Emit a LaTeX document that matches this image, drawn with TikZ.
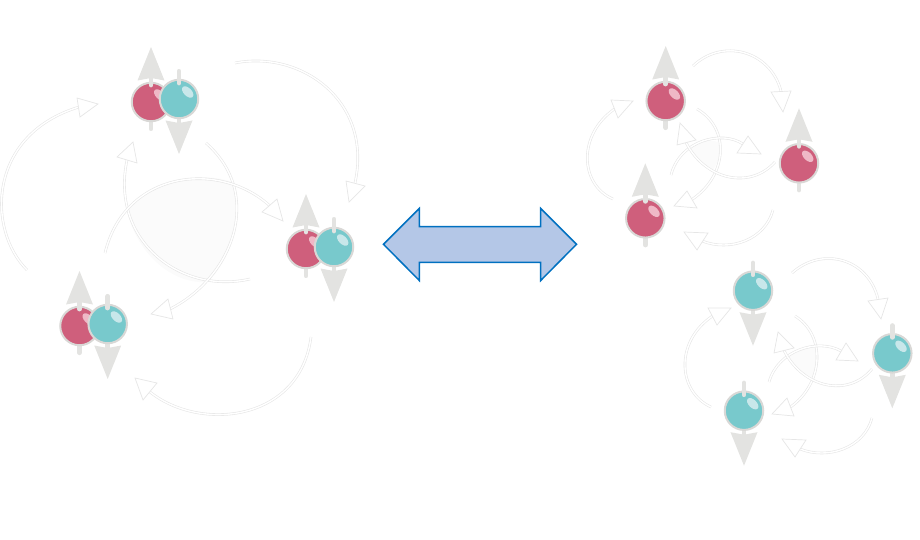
\documentclass[tikz,border=0pt]{standalone}
\definecolor{pinkball}{HTML}{CF5F7C}
\definecolor{tealball}{HTML}{78C9CC}
\definecolor{pinkshine}{HTML}{EFB8C6}
\definecolor{tealshine}{HTML}{C8E7EA}
\definecolor{ballring}{HTML}{D9D8D6}
\definecolor{spingray}{HTML}{E3E3E1}
\definecolor{bondgray}{HTML}{E6E6E6}
\definecolor{patchgray}{HTML}{FBFBFB}
\definecolor{swapfill}{HTML}{B4C7E7}
\definecolor{swapedge}{HTML}{0070C0}
\tikzset{
  ball/.style={circle, draw=ballring, line width=2pt, minimum size=38.5pt, inner sep=0pt},
  stem/.style={draw=spingray, line width=4.8pt, line cap=round},
  bondline/.style={draw=bondgray, line width=0.6pt, double=white, double distance=1.4pt},
  bondtip/.style={draw=bondgray, line width=0.7pt, fill=white, line join=miter},
  patch/.style={fill=patchgray},
}
% ball with spin up
\newcommand{\pinkspin}[3]{
  \begin{scope}[shift={(#2,#3)}]
    \draw[stem] (0,10) -- (0,26.7);
    \fill[spingray] (0,-55) -- (13.5,-21.5) -- (0,-24) -- (-13.5,-21.5) -- cycle;
    \node[ball, fill=pinkball] (#1) at (0,0) {};
    \fill[pinkshine, rotate around={-45:(8.7,-7)}] (8.7,-7) ellipse (7 and 4);
    \draw[stem] (0,-28) -- (0,-17);
  \end{scope}
}
% ball with spin down
\newcommand{\tealspin}[3]{
  \begin{scope}[shift={(#2,#3)}]
    \draw[stem] (0,10) -- (0,26);
    \fill[spingray] (0,55) -- (13.5,21.5) -- (0,24) -- (-13.5,21.5) -- cycle;
    \node[ball, fill=tealball] (#1) at (0,0) {};
    \fill[tealshine, rotate around={-45:(8.7,-7)}] (8.7,-7) ellipse (7 and 4);
    \draw[stem] (0,-27.7) -- (0,-16);
  \end{scope}
}
% curved arrow and its open head
\newcommand{\bond}[7]{
  \draw[bondline] #1 .. controls #2 and #3 .. #4;
  \draw[bondtip] #5 -- #6 -- #7 -- cycle;
}
\begin{document}
\begin{tikzpicture}[x=1pt, y=-1pt]
  \useasboundingbox (0,0) rectangle (920,540);

  % left group
  \fill[patch] (127,210) .. controls (150,180) and (205,170) .. (234,183)
    .. controls (243,215) and (232,258) .. (208,282)
    .. controls (170,285) and (135,250) .. (127,210);
  \bond{(27,270)}{(-13,230)}{(-13,135)}{(79,107)}{(77,98)}{(98,104)}{(80,117)}
  \bond{(235,63)}{(300,50)}{(373,100)}{(355,183)}{(346,181)}{(349,202)}{(365,186)}
  \bond{(250,279)}{(180,295)}{(110,240)}{(127,160)}{(117,157)}{(133,142)}{(137,163)}
  \bond{(206,143)}{(265,195)}{(232,278)}{(170,309)}{(168,299)}{(151,314)}{(173,319)}
  \bond{(105,253)}{(125,170)}{(220,160)}{(270,206)}{(277,199)}{(283,221)}{(262,212)}
  \bond{(311,337)}{(300,422)}{(200,432)}{(150,392)}{(157,383)}{(135,378)}{(143,400)}
  \pinkspin{pinkone}{151}{102}
  \tealspin{tealone}{179}{99}
  \pinkspin{pinktwo}{306}{249}
  \tealspin{tealtwo}{334}{247}
  \pinkspin{pinkthree}{79.5}{326}
  \tealspin{tealthree}{107.7}{324}

  % exchange arrow
  \draw[fill=swapfill, draw=swapedge, line width=1.5pt, line join=miter] (383.5,244.3) -- (419.3,208.5) -- (419.3,226.7) -- (540.7,226.7) -- (540.7,208.5) -- (576.5,244.3) -- (540.7,280.5) -- (540.7,262.3) -- (419.3,262.3) -- (419.3,280.5) -- cycle;

  % upper right group
  \fill[patch] (690,147) .. controls (697,141) and (708,139) .. (718,142)
    .. controls (721,151) and (719,161) .. (713,170)
    .. controls (703,167) and (695,158) .. (690,147);
  \bond{(613,199)}{(580,185)}{(577,135)}{(614.5,109)}{(611,100)}{(633,101)}{(618,118)}
  \bond{(693,66)}{(722,38)}{(770,50)}{(781,91)}{(771,92)}{(783,112)}{(791,91)}
  \bond{(773,210)}{(765,240)}{(730,252)}{(702,241)}{(708,233)}{(684,232)}{(697,250)}
  \bond{(697,109)}{(730,128)}{(728,175)}{(692,199.5)}{(687,191)}{(674,206)}{(697,208)}
  \bond{(671,175)}{(680,140)}{(722,130)}{(743,144)}{(748,136)}{(761,154)}{(737,153)}
  \bond{(775,162)}{(750,190)}{(705,180)}{(686,142.5)}{(677,145)}{(680,123)}{(696,140)}
  \pinkspin{pinkup}{665.7}{101}
  \pinkspin{pinkright}{799}{163.3}
  \pinkspin{pinkdown}{645.3}{218.3}

  % lower right group
  \fill[patch] (788,357) .. controls (796,350) and (807,346) .. (817,348)
    .. controls (820,358) and (818,368) .. (812,377)
    .. controls (802,374) and (793,367) .. (788,357);
  \bond{(711,407)}{(678,392)}{(674,342)}{(712.5,316)}{(708,308)}{(731,308)}{(717,325)}
  \bond{(792,273)}{(822,246)}{(868,258)}{(878,299)}{(868,301)}{(881,319)}{(888,298)}
  \bond{(872,418)}{(864,448)}{(828,460)}{(800,449)}{(806,440)}{(782,439)}{(795,457)}
  \bond{(795,316)}{(826,335)}{(824,383)}{(790.5,407)}{(787,398)}{(772,414)}{(794,416)}
  \bond{(769,382)}{(778,350)}{(818,338)}{(841,351)}{(846,343)}{(858,361)}{(836,360)}
  \bond{(872,369)}{(848,398)}{(803,388)}{(784,350.5)}{(774,353)}{(778,332)}{(794,348)}
  \tealspin{tealup}{753}{290.7}
  \tealspin{tealright}{892.3}{353.3}
  \tealspin{tealdown}{744}{410.7}
\end{tikzpicture}
\end{document}
